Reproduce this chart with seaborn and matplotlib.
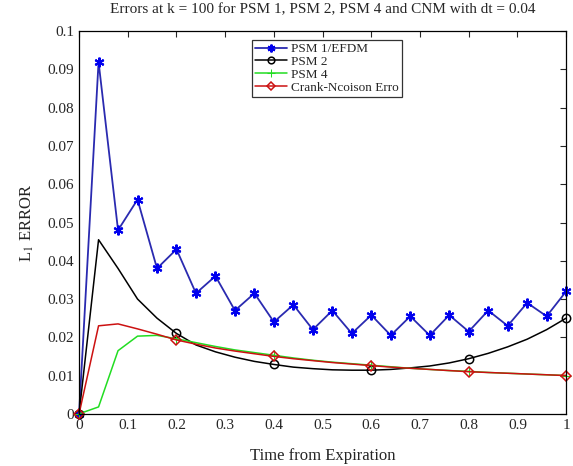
import numpy as np
import pandas as pd
import matplotlib
matplotlib.use('Agg')
import matplotlib.pyplot as plt
import seaborn as sb

sb.set_style('white')
plt.rcParams['font.family'] = ['Liberation Serif', 'DejaVu Serif']
plt.rcParams['mathtext.fontset'] = 'stix'

# time points (dt = 0.04)
t = [0.00, 0.04, 0.08, 0.12, 0.16, 0.20, 0.24, 0.28, 0.32, 0.36, 0.40, 0.44, 0.48,
     0.52, 0.56, 0.60, 0.64, 0.68, 0.72, 0.76, 0.80, 0.84, 0.88, 0.92, 0.96, 1.00]

psm1 = [0.0, 0.092, 0.048, 0.056, 0.038, 0.043, 0.0315, 0.036, 0.027, 0.0315, 0.024,
        0.0285, 0.022, 0.027, 0.021, 0.0258, 0.0205, 0.0255, 0.0205, 0.0258, 0.0215,
        0.027, 0.023, 0.029, 0.0255, 0.032]
psm2 = [0.0, 0.0455, 0.038, 0.030, 0.025, 0.021, 0.018, 0.0162, 0.0148, 0.0137, 0.0129,
        0.0122, 0.0118, 0.0115, 0.0114, 0.0114, 0.0116, 0.012, 0.0125, 0.0133, 0.0144,
        0.0158, 0.0175, 0.0195, 0.022, 0.025]
psm4 = [0.0, 0.0018, 0.0165, 0.0203, 0.0205, 0.0196, 0.0186, 0.0176, 0.0167, 0.016,
        0.0153, 0.0146, 0.014, 0.0135, 0.0131, 0.0127, 0.0123, 0.0119, 0.0116, 0.0113,
        0.0111, 0.0108, 0.0106, 0.0104, 0.0102, 0.010]
cnm = [0.0, 0.023, 0.0235, 0.0222, 0.0208, 0.0193, 0.0182, 0.0172, 0.0164, 0.0157,
       0.0150, 0.0144, 0.0139, 0.0134, 0.013, 0.0126, 0.0122, 0.0119, 0.0116, 0.0113,
       0.011, 0.0108, 0.0106, 0.0104, 0.0102, 0.010]

frame = pd.DataFrame({'t': t, 'PSM 1/EFDM': psm1, 'PSM 2': psm2,
                      'PSM 4': psm4, 'Crank-Ncoison Erro': cnm})

fig = plt.figure(figsize=(5.73, 4.66), dpi=100)
ax = fig.add_axes([0.138, 0.112, 0.850, 0.821])

sb.lineplot(data=frame, x='t', y='PSM 1/EFDM', ax=ax, color='#2a2ab0', lw=1.3,
            marker=(6, 2, 0), ms=7, mec='#0000ee', mew=1.5, clip_on=False, label='PSM 1/EFDM')
sb.lineplot(data=frame, x='t', y='PSM 2', ax=ax, color='black', lw=1.1,
            marker='o', ms=6, mfc='none', mec='black', mew=1.1, markevery=5,
            clip_on=False, label='PSM 2')
sb.lineplot(data=frame, x='t', y='PSM 4', ax=ax, color='#22dd22', lw=1.1,
            marker='+', ms=7, mec='#22dd22', markevery=5, clip_on=False, label='PSM 4')
sb.lineplot(data=frame, x='t', y='Crank-Ncoison Erro', ax=ax, color='#cc1111', lw=1.1,
            marker='D', ms=5, mfc='none', mec='#cc1111', mew=1.1, markevery=5,
            clip_on=False, label='Crank-Ncoison Erro')

ax.set_xlim(0, 1)
ax.set_ylim(0, 0.1)
ax.set_xticks(np.arange(0, 1.01, 0.1))
ax.set_xticklabels(['0', '0.1', '0.2', '0.3', '0.4', '0.5', '0.6', '0.7', '0.8', '0.9', '1'])
ax.set_yticks(np.arange(0, 0.101, 0.01))
ax.set_yticklabels(['0', '0.01', '0.02', '0.03', '0.04', '0.05', '0.06', '0.07', '0.08', '0.09', '0.1'])
ax.tick_params(direction='in', top=True, right=True, length=4, labelsize=11, width=0.8)
for s in ax.spines.values():
    s.set_color('black')
    s.set_linewidth(0.9)

ax.set_xlabel('Time from Expiration', fontsize=12, labelpad=12)
ax.set_ylabel('L$_1$ ERROR', fontsize=12, labelpad=8)
ax.set_title('Errors at k = 100 for PSM 1, PSM 2, PSM 4 and CNM with dt = 0.04',
             fontsize=11, pad=13)

leg = ax.legend(loc='upper left', bbox_to_anchor=(0.355, 0.978), fontsize=9.5,
                frameon=True, fancybox=False, borderpad=0.25, labelspacing=0.05,
                handlelength=2.4, handletextpad=0.3, borderaxespad=0, markerscale=0.8)
leg.get_frame().set_edgecolor('black')
leg.get_frame().set_linewidth(0.9)

fig.savefig('out.png', dpi=100)
